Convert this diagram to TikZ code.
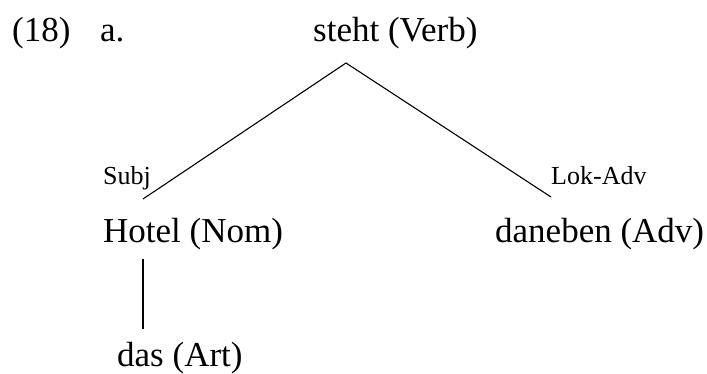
\documentclass[tikz,border=0pt]{standalone}
\usepackage{fontspec}
\setmainfont{Liberation Serif}
\begin{document}
\begin{tikzpicture}[x=1pt,y=-1pt,
  word/.style={font=\fontsize{35}{40}\selectfont, inner sep=0pt, anchor=base west},
  rel/.style={font=\fontsize{26}{30}\selectfont, inner sep=0pt, anchor=base west},
  edge/.style={draw=black, line width=1.1pt}]
\useasboundingbox (0,0) rectangle (707,374);
% example number and sub-label
\node[word] (num) at (12,42) {(18)};
\node[word] (sub) at (100,42) {a.};
% dependency tree
\node[word] (verb) at (313,42) {steht (Verb)};
\node[word] (nom)  at (103,243) {Hotel (Nom)};
\node[word] (adv)  at (495,243) {daneben (Adv)};
\node[word] (art)  at (117,366) {das (Art)};
% edge labels
\node[rel] (subj) at (103,185) {Subj};
\node[rel] (lok)  at (551,185) {Lok-Adv};
% attachment points of the edges
\coordinate (vtop) at (346,63);
\coordinate (nomtop) at (143,199);
\coordinate (advtop) at (551,197);
\coordinate (nombot) at (143,259);
\coordinate (arttop) at (143,329);
\draw[edge] (nomtop) -- (vtop) -- (advtop);
\draw[edge] (nombot) -- (arttop);
\end{tikzpicture}
\end{document}
